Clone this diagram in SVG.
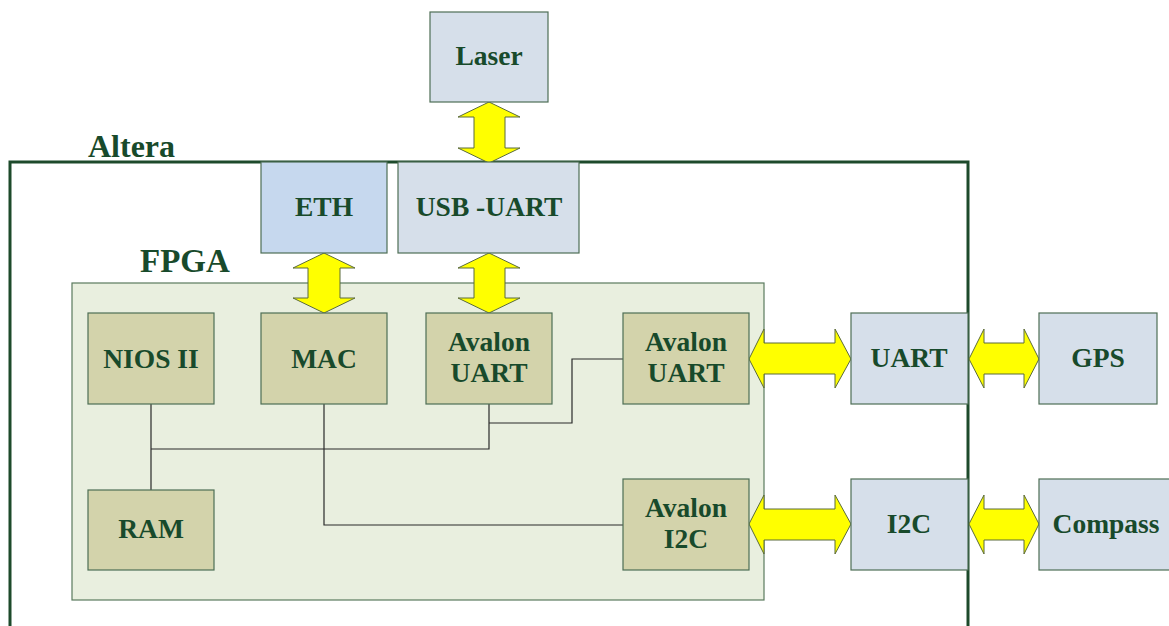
<svg xmlns="http://www.w3.org/2000/svg" width="1169" height="626" viewBox="0 0 1169 626">
<style>
text{font-family:"Liberation Serif","Times New Roman",serif;font-weight:bold;fill:#184a2b;text-anchor:middle}
.n{font-size:27.5px}
.big{font-size:33px;text-anchor:start}
.ext{fill:#d6dfea;stroke:#4e6e55;stroke-width:1.2}
.eth{fill:#c6d8ee;stroke:#4e6e55;stroke-width:1.2}
.in{fill:#d3d3ab;stroke:#4e6e55;stroke-width:1.2}
.arr{fill:#ffff00;stroke:#5b6b3a;stroke-width:1}
.ln{fill:none;stroke:#2a2a2a;stroke-width:1.2}
</style>
<g id="altera">
<rect x="10" y="162" width="958" height="480" fill="none" stroke="#1d4a2b" stroke-width="3"/>
<text class="big" x="88" y="157" style="font-size:32px">Altera</text>
</g>
<g id="fpga">
<rect x="72" y="283" width="692" height="317" fill="#e9efdf" stroke="#5a7a5e" stroke-width="1.2"/>
<text class="big" x="140" y="272">FPGA</text>
</g>
<g id="connectors">
<path class="ln" d="M151 404V490M151 449H489V404M489 423H572V359H623M324 404V525H623"/>
<path class="arr" d="M489 102L520 117H505V148H520L489 163L458 148H474V117H458Z"/>
<path class="arr" d="M324 253L355 268H340V298H355L324 313L293 298H308V268H293Z"/>
<path class="arr" d="M489 253L520 268H505V298H520L489 313L458 298H474V268H458Z"/>
<path class="arr" d="M749 359L764 329V343H835V329L851 359L835 388V374H764V388Z"/>
<path class="arr" d="M969 359L984 329V343H1024V329L1039 359L1024 388V374H984V388Z"/>
<path class="arr" d="M749 524L764 495V509H835V495L851 524L835 554V540H764V554Z"/>
<path class="arr" d="M969 524L984 495V509H1024V495L1039 524L1024 554V540H984V554Z"/>
</g>
<g id="laser"><rect class="ext" x="430" y="12" width="118" height="90"/><text class="n" x="489" y="65">Laser</text></g>
<g id="eth"><rect class="eth" x="261" y="162" width="126" height="91"/><text class="n" x="324" y="216">ETH</text></g>
<g id="usbuart"><rect class="ext" x="398" y="162" width="181" height="91"/><text class="n" x="489" y="216">USB -UART</text></g>
<g id="nios"><rect class="in" x="88" y="313" width="126" height="91"/><text class="n" x="151" y="368">NIOS II</text></g>
<g id="mac"><rect class="in" x="261" y="313" width="126" height="91"/><text class="n" x="324" y="368">MAC</text></g>
<g id="avuart1"><rect class="in" x="426" y="313" width="126" height="91"/><text class="n" x="489" y="351">Avalon</text><text class="n" x="489" y="382">UART</text></g>
<g id="avuart2"><rect class="in" x="623" y="313" width="126" height="91"/><text class="n" x="686" y="351">Avalon</text><text class="n" x="686" y="382">UART</text></g>
<g id="ram"><rect class="in" x="88" y="490" width="126" height="80"/><text class="n" x="151" y="538">RAM</text></g>
<g id="avi2c"><rect class="in" x="623" y="479" width="126" height="91"/><text class="n" x="686" y="517">Avalon</text><text class="n" x="686" y="548">I2C</text></g>
<g id="uart"><rect class="ext" x="851" y="313" width="117" height="91"/><text class="n" x="909" y="367">UART</text></g>
<g id="gps"><rect class="ext" x="1039" y="313" width="118" height="91"/><text class="n" x="1098" y="367">GPS</text></g>
<g id="i2c"><rect class="ext" x="851" y="479" width="117" height="91"/><text class="n" x="909" y="533">I2C</text></g>
<g id="compass"><rect class="ext" x="1039" y="479" width="135" height="91"/><text class="n" x="1106" y="533">Compass</text></g>
</svg>
